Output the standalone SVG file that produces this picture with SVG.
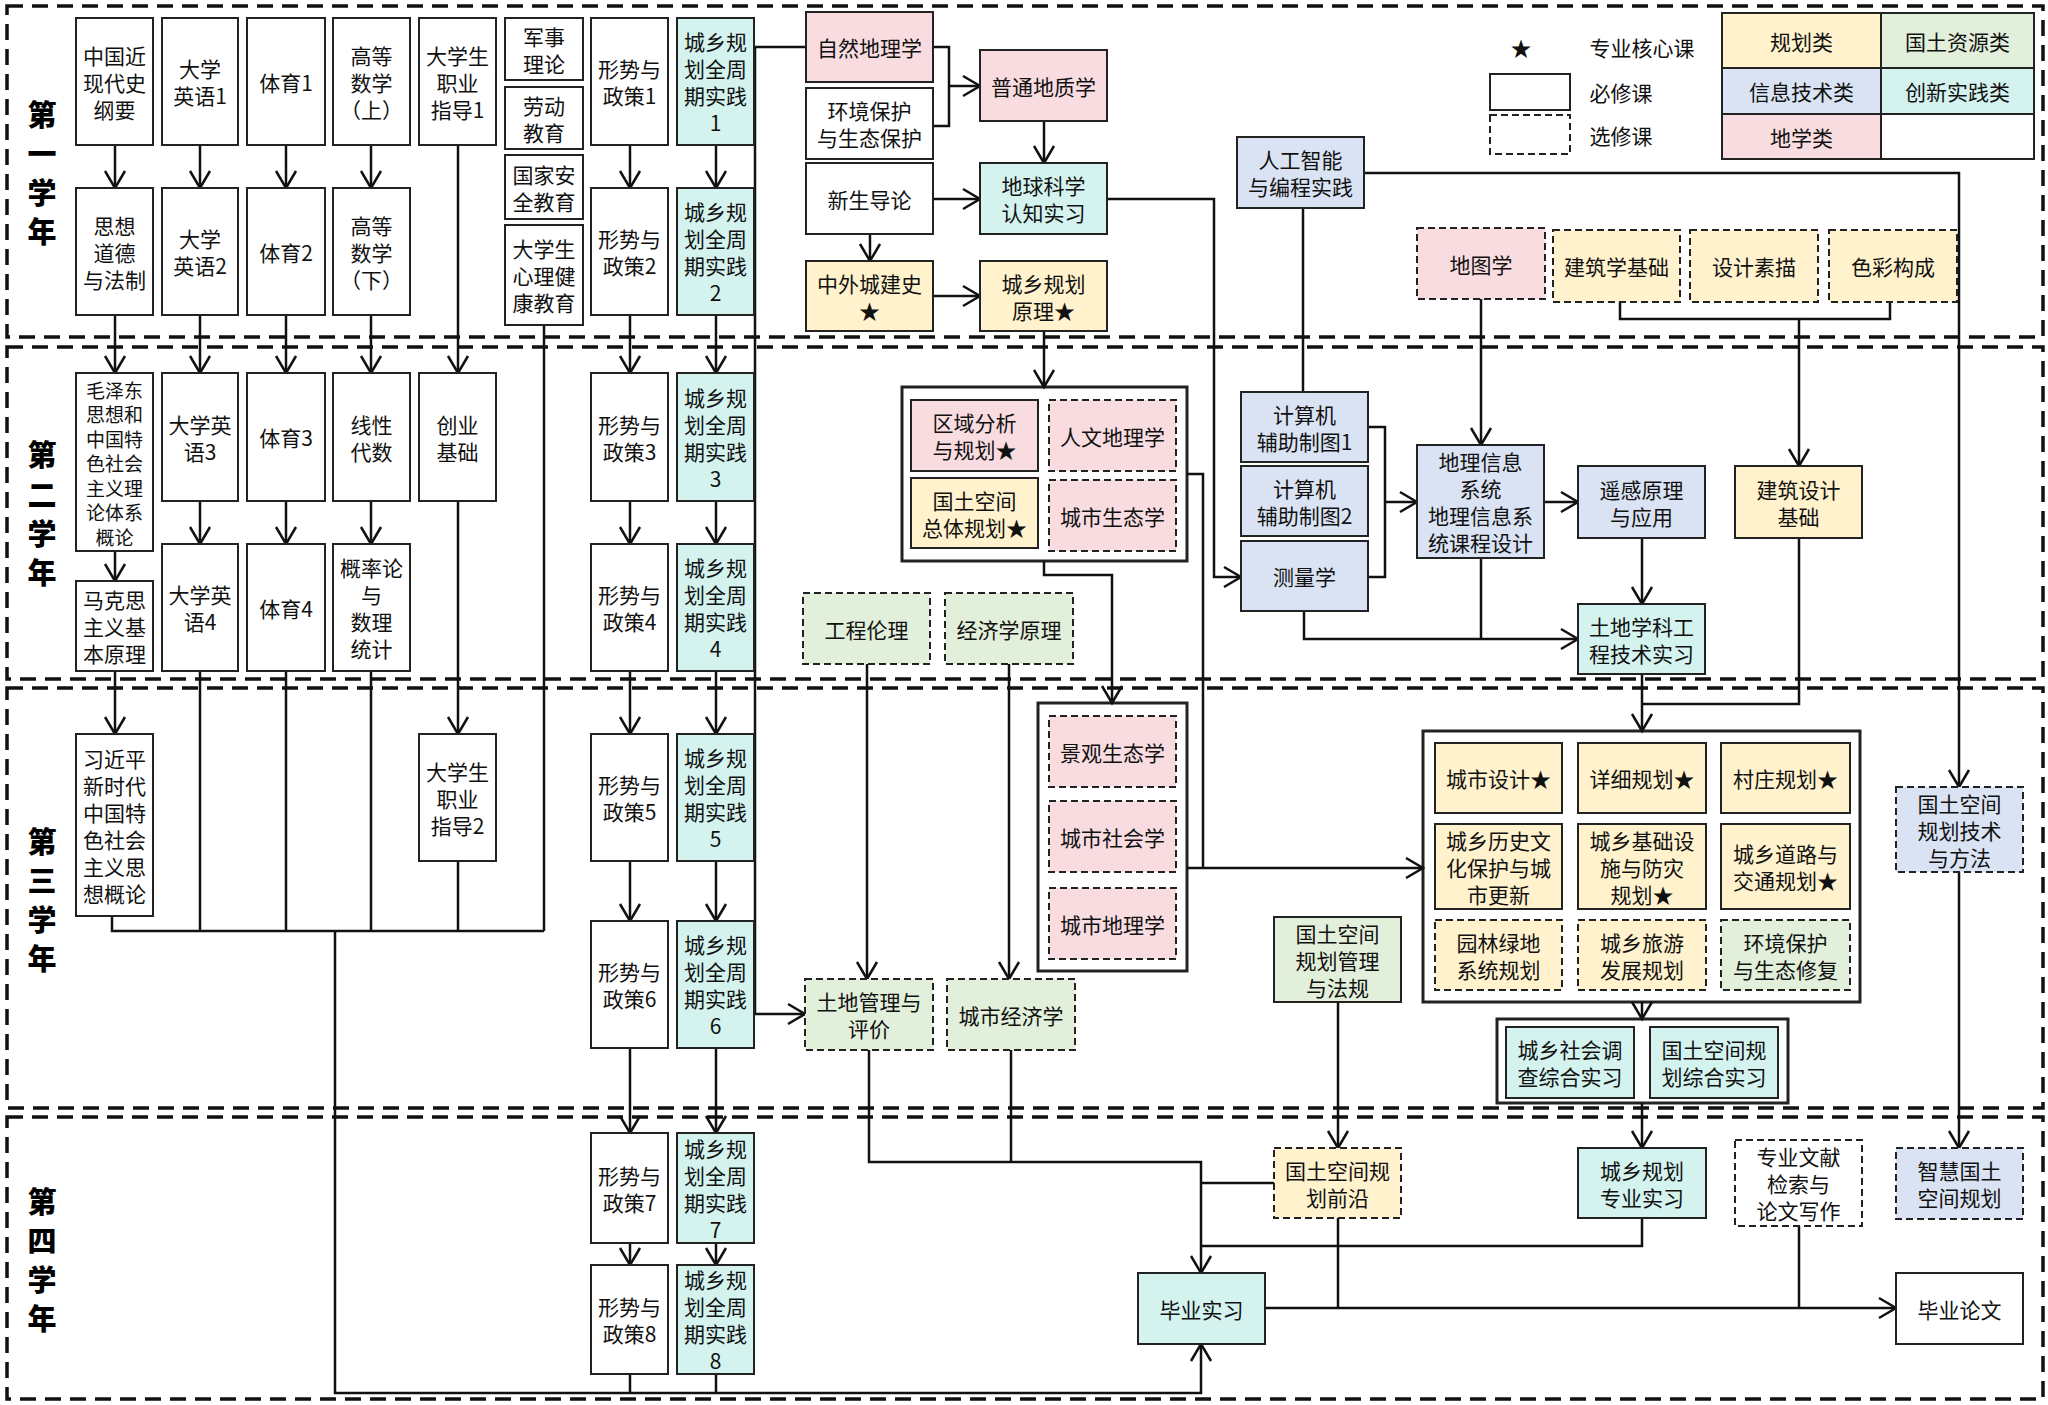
<svg xmlns="http://www.w3.org/2000/svg" width="2048" height="1405" viewBox="0 0 2048 1405">
<defs>
<marker id="arr" markerUnits="userSpaceOnUse" markerWidth="24" markerHeight="26" refX="20" refY="13" orient="auto">
<path d="M3,3 L20,13 L3,23" fill="none" stroke="#111" stroke-width="2.5"/>
</marker>
<style>
.t{font-family:"Noto Sans CJK SC","Noto Sans",sans-serif;font-size:21px;text-anchor:middle;dominant-baseline:central;fill:#111}
.sm{font-size:19px}
.yl{font-family:"Noto Sans CJK SC","Noto Sans",sans-serif;font-size:29px;font-weight:900;text-anchor:middle;dominant-baseline:central;fill:#000}
.n{stroke:#222;stroke-width:2}
.dn{stroke-dasharray:7 4}
.y{fill:#FFF2CC}.g{fill:#E2EFDA}.bl{fill:#DAE3F3}.cy{fill:#D4F3EF}.p{fill:#F8DCE0}.w{fill:#FFFFFF}
.grp{fill:#fff;stroke:#222;stroke-width:3}
.yr{fill:none;stroke:#111;stroke-width:3.5;stroke-dasharray:16 9}
.c{fill:none;stroke:#111;stroke-width:2.5}
.a{marker-end:url(#arr)}
</style>
</defs>
<rect width="2048" height="1405" fill="#fff"/>
<g id="years">
<rect class="yr" x="7" y="6" width="2036" height="331"/>
<rect class="yr" x="7" y="347" width="2036" height="332"/>
<rect class="yr" x="7" y="688" width="2036" height="420"/>
<rect class="yr" x="7" y="1117" width="2036" height="282"/>
<text class="yl"><tspan x="42" y="113">第</tspan><tspan x="42" y="152">一</tspan><tspan x="42" y="191">学</tspan><tspan x="42" y="230">年</tspan></text>
<text class="yl"><tspan x="42" y="453">第</tspan><tspan x="42" y="493">二</tspan><tspan x="42" y="532">学</tspan><tspan x="42" y="571">年</tspan></text>
<text class="yl"><tspan x="42" y="840">第</tspan><tspan x="42" y="879">三</tspan><tspan x="42" y="918">学</tspan><tspan x="42" y="957">年</tspan></text>
<text class="yl"><tspan x="42" y="1200">第</tspan><tspan x="42" y="1239">四</tspan><tspan x="42" y="1278">学</tspan><tspan x="42" y="1317">年</tspan></text>
</g>
<g id="containers">
<rect id="grp-region" class="grp" x="902" y="387" width="285" height="174"/>
<rect id="grp-eco" class="grp" x="1038" y="703" width="149" height="268"/>
<rect id="grp-design" class="grp" x="1423" y="731" width="437" height="271"/>
<rect id="grp-intern" class="grp" x="1497" y="1019" width="291" height="84"/>
</g>
<g id="connectors" class="c">
<path class="a" d="M115 145V188"/><path class="a" d="M200 145V188"/><path class="a" d="M286 145V188"/><path class="a" d="M371 145V188"/>
<path class="a" d="M115 315V373"/><path class="a" d="M200 315V373"/><path class="a" d="M286 315V373"/><path class="a" d="M371 315V373"/>
<path class="a" d="M458 145V373"/>
<path d="M544 325V931"/>
<path class="a" d="M115 551V581"/>
<path class="a" d="M200 501V544"/><path class="a" d="M286 501V544"/><path class="a" d="M371 501V544"/>
<path class="a" d="M458 501V734"/>
<path class="a" d="M115 671V734"/>
<path d="M200 671V931"/><path d="M286 671V931"/><path d="M371 671V931"/>
<path d="M458 861V931"/>
<path d="M112 916V931H544"/>
<path class="a" d="M335 931V1393H1201V1344"/>
<path class="a" d="M630 145V188"/><path class="a" d="M630 315V373"/><path class="a" d="M630 501V544"/><path class="a" d="M630 671V734"/><path class="a" d="M630 861V921"/><path class="a" d="M630 1048V1133"/><path class="a" d="M630 1243V1265"/><path d="M630 1374V1393"/>
<path class="a" d="M716 145V188"/><path class="a" d="M716 315V373"/><path class="a" d="M716 501V544"/><path class="a" d="M716 671V734"/><path class="a" d="M716 861V921"/><path class="a" d="M716 1048V1133"/><path class="a" d="M716 1243V1265"/><path d="M716 1374V1393"/>
<path class="a" d="M806 47H755V1014H805"/>
<path d="M933 47H949V126H933"/>
<path class="a" d="M949 86H980"/>
<path class="a" d="M1044 121V163"/>
<path class="a" d="M933 199H980"/>
<path class="a" d="M870 234V261"/>
<path class="a" d="M933 296H980"/>
<path class="a" d="M1044 331V387"/>
<path class="a" d="M1107 199H1214V577H1241"/>
<path d="M1303 208V392"/>
<path class="a" d="M1364 173H1959V787"/>
<path class="a" d="M1959 872V1148"/>
<path d="M1187 474H1203V868"/>
<path class="a" d="M1187 868H1423"/>
<path class="a" d="M1044 561V575H1112V703"/>
<path class="a" d="M867 664V979"/>
<path class="a" d="M1009 664V979"/>
<path class="a" d="M869 1050V1162H1201V1273"/>
<path d="M1011 1050V1162"/>
<path d="M1368 427H1385V577H1368"/>
<path class="a" d="M1385 502H1417"/>
<path class="a" d="M1304 611V639H1578"/>
<path d="M1481 558V639"/>
<path class="a" d="M1481 299V445"/>
<path class="a" d="M1544 502H1578"/>
<path class="a" d="M1642 538V604"/>
<path d="M1620 302V319H1890V302"/>
<path class="a" d="M1799 319V466"/>
<path class="a" d="M1642 674V731"/>
<path d="M1799 538V704H1642"/>
<path class="a" d="M1642 1002V1019"/>
<path class="a" d="M1642 1103V1148"/>
<path d="M1642 1218V1246H1201"/>
<path class="a" d="M1338 1002V1148"/>
<path d="M1274 1183H1201"/>
<path class="a" d="M1265 1308H1896"/>
<path d="M1338 1218V1308"/>
<path d="M1799 1226V1308"/>
</g>
<g id="nodes">
<g id="zgjxds"><rect class="n w" x="76" y="18" width="77" height="127"/><text class="t"><tspan x="114.5" y="54.5">中国近</tspan><tspan x="114.5" y="81.5">现代史</tspan><tspan x="114.5" y="108.5">纲要</tspan></text></g>
<g id="dxyy1"><rect class="n w" x="162" y="18" width="76" height="127"/><text class="t"><tspan x="200" y="68">大学</tspan><tspan x="200" y="95">英语1</tspan></text></g>
<g id="ty1"><rect class="n w" x="247" y="18" width="78" height="127"/><text class="t" x="286" y="81.5">体育1</text></g>
<g id="gdsx1"><rect class="n w" x="333" y="18" width="77" height="127"/><text class="t"><tspan x="371.5" y="54.5">高等</tspan><tspan x="371.5" y="81.5">数学</tspan><tspan x="371.5" y="108.5">（上）</tspan></text></g>
<g id="zyzd1"><rect class="n w" x="419" y="18" width="77" height="127"/><text class="t"><tspan x="457.5" y="54.5">大学生</tspan><tspan x="457.5" y="81.5">职业</tspan><tspan x="457.5" y="108.5">指导1</tspan></text></g>
<g id="jsll"><rect class="n w" x="505" y="18" width="78" height="62"/><text class="t"><tspan x="544" y="35.5">军事</tspan><tspan x="544" y="62.5">理论</tspan></text></g>
<g id="ldjy"><rect class="n w" x="505" y="87" width="78" height="62"/><text class="t"><tspan x="544" y="104.5">劳动</tspan><tspan x="544" y="131.5">教育</tspan></text></g>
<g id="gjaq"><rect class="n w" x="505" y="155" width="78" height="64"/><text class="t"><tspan x="544" y="173.5">国家安</tspan><tspan x="544" y="200.5">全教育</tspan></text></g>
<g id="xljk"><rect class="n w" x="505" y="225" width="78" height="100"/><text class="t"><tspan x="544" y="248">大学生</tspan><tspan x="544" y="275">心理健</tspan><tspan x="544" y="302">康教育</tspan></text></g>
<g id="xszc1"><rect class="n w" x="591" y="18" width="77" height="127"/><text class="t"><tspan x="629.5" y="68">形势与</tspan><tspan x="629.5" y="95">政策1</tspan></text></g>
<g id="cxgh1"><rect class="n cy" x="677" y="18" width="77" height="127"/><text class="t"><tspan x="715.5" y="41">城乡规</tspan><tspan x="715.5" y="68">划全周</tspan><tspan x="715.5" y="95">期实践</tspan><tspan x="715.5" y="122">1</tspan></text></g>

<g id="sxdd"><rect class="n w" x="76" y="188" width="77" height="127"/><text class="t"><tspan x="114.5" y="224.5">思想</tspan><tspan x="114.5" y="251.5">道德</tspan><tspan x="114.5" y="278.5">与法制</tspan></text></g>
<g id="dxyy2"><rect class="n w" x="162" y="188" width="76" height="127"/><text class="t"><tspan x="200" y="238">大学</tspan><tspan x="200" y="265">英语2</tspan></text></g>
<g id="ty2"><rect class="n w" x="247" y="188" width="78" height="127"/><text class="t" x="286" y="251.5">体育2</text></g>
<g id="gdsx2"><rect class="n w" x="333" y="188" width="77" height="127"/><text class="t"><tspan x="371.5" y="224.5">高等</tspan><tspan x="371.5" y="251.5">数学</tspan><tspan x="371.5" y="278.5">（下）</tspan></text></g>
<g id="xszc2"><rect class="n w" x="591" y="188" width="77" height="127"/><text class="t"><tspan x="629.5" y="238">形势与</tspan><tspan x="629.5" y="265">政策2</tspan></text></g>
<g id="cxgh2"><rect class="n cy" x="677" y="188" width="77" height="127"/><text class="t"><tspan x="715.5" y="211">城乡规</tspan><tspan x="715.5" y="238">划全周</tspan><tspan x="715.5" y="265">期实践</tspan><tspan x="715.5" y="292">2</tspan></text></g>

<g id="mzd"><rect class="n w" x="76" y="373" width="77" height="178"/><text class="t sm"><tspan x="114.5" y="388.5">毛泽东</tspan><tspan x="114.5" y="413">思想和</tspan><tspan x="114.5" y="437.5">中国特</tspan><tspan x="114.5" y="462">色社会</tspan><tspan x="114.5" y="486.5">主义理</tspan><tspan x="114.5" y="511">论体系</tspan><tspan x="114.5" y="535.5">概论</tspan></text></g>
<g id="dxyy3"><rect class="n w" x="162" y="373" width="76" height="128"/><text class="t"><tspan x="200" y="423.5">大学英</tspan><tspan x="200" y="450.5">语3</tspan></text></g>
<g id="ty3"><rect class="n w" x="247" y="373" width="78" height="128"/><text class="t" x="286" y="437">体育3</text></g>
<g id="xxds"><rect class="n w" x="333" y="373" width="77" height="128"/><text class="t"><tspan x="371.5" y="423.5">线性</tspan><tspan x="371.5" y="450.5">代数</tspan></text></g>
<g id="cyjc"><rect class="n w" x="419" y="373" width="77" height="128"/><text class="t"><tspan x="457.5" y="423.5">创业</tspan><tspan x="457.5" y="450.5">基础</tspan></text></g>
<g id="xszc3"><rect class="n w" x="591" y="373" width="77" height="128"/><text class="t"><tspan x="629.5" y="423.5">形势与</tspan><tspan x="629.5" y="450.5">政策3</tspan></text></g>
<g id="cxgh3"><rect class="n cy" x="677" y="373" width="77" height="128"/><text class="t"><tspan x="715.5" y="396.5">城乡规</tspan><tspan x="715.5" y="423.5">划全周</tspan><tspan x="715.5" y="450.5">期实践</tspan><tspan x="715.5" y="477.5">3</tspan></text></g>

<g id="mks"><rect class="n w" x="76" y="581" width="77" height="90"/><text class="t"><tspan x="114.5" y="599">马克思</tspan><tspan x="114.5" y="626">主义基</tspan><tspan x="114.5" y="653">本原理</tspan></text></g>
<g id="dxyy4"><rect class="n w" x="162" y="544" width="76" height="127"/><text class="t"><tspan x="200" y="594">大学英</tspan><tspan x="200" y="621">语4</tspan></text></g>
<g id="ty4"><rect class="n w" x="247" y="544" width="78" height="127"/><text class="t" x="286" y="607.5">体育4</text></g>
<g id="gll"><rect class="n w" x="333" y="544" width="77" height="127"/><text class="t"><tspan x="371.5" y="567">概率论</tspan><tspan x="371.5" y="594">与</tspan><tspan x="371.5" y="621">数理</tspan><tspan x="371.5" y="648">统计</tspan></text></g>
<g id="xszc4"><rect class="n w" x="591" y="544" width="77" height="127"/><text class="t"><tspan x="629.5" y="594">形势与</tspan><tspan x="629.5" y="621">政策4</tspan></text></g>
<g id="cxgh4"><rect class="n cy" x="677" y="544" width="77" height="127"/><text class="t"><tspan x="715.5" y="567">城乡规</tspan><tspan x="715.5" y="594">划全周</tspan><tspan x="715.5" y="621">期实践</tspan><tspan x="715.5" y="648">4</tspan></text></g>

<g id="xjp"><rect class="n w" x="76" y="734" width="77" height="182"/><text class="t"><tspan x="114.5" y="757.5">习近平</tspan><tspan x="114.5" y="784.5">新时代</tspan><tspan x="114.5" y="811.5">中国特</tspan><tspan x="114.5" y="838.5">色社会</tspan><tspan x="114.5" y="865.5">主义思</tspan><tspan x="114.5" y="892.5">想概论</tspan></text></g>
<g id="zyzd2"><rect class="n w" x="419" y="734" width="77" height="127"/><text class="t"><tspan x="457.5" y="770.5">大学生</tspan><tspan x="457.5" y="797.5">职业</tspan><tspan x="457.5" y="824.5">指导2</tspan></text></g>
<g id="xszc5"><rect class="n w" x="591" y="734" width="77" height="127"/><text class="t"><tspan x="629.5" y="784">形势与</tspan><tspan x="629.5" y="811">政策5</tspan></text></g>
<g id="cxgh5"><rect class="n cy" x="677" y="734" width="77" height="127"/><text class="t"><tspan x="715.5" y="757">城乡规</tspan><tspan x="715.5" y="784">划全周</tspan><tspan x="715.5" y="811">期实践</tspan><tspan x="715.5" y="838">5</tspan></text></g>
<g id="xszc6"><rect class="n w" x="591" y="921" width="77" height="127"/><text class="t"><tspan x="629.5" y="971">形势与</tspan><tspan x="629.5" y="998">政策6</tspan></text></g>
<g id="cxgh6"><rect class="n cy" x="677" y="921" width="77" height="127"/><text class="t"><tspan x="715.5" y="944">城乡规</tspan><tspan x="715.5" y="971">划全周</tspan><tspan x="715.5" y="998">期实践</tspan><tspan x="715.5" y="1025">6</tspan></text></g>
<g id="xszc7"><rect class="n w" x="591" y="1133" width="77" height="110"/><text class="t"><tspan x="629.5" y="1174.5">形势与</tspan><tspan x="629.5" y="1201.5">政策7</tspan></text></g>
<g id="cxgh7"><rect class="n cy" x="677" y="1133" width="77" height="110"/><text class="t"><tspan x="715.5" y="1147.5">城乡规</tspan><tspan x="715.5" y="1174.5">划全周</tspan><tspan x="715.5" y="1201.5">期实践</tspan><tspan x="715.5" y="1228.5">7</tspan></text></g>
<g id="xszc8"><rect class="n w" x="591" y="1265" width="77" height="109"/><text class="t"><tspan x="629.5" y="1306">形势与</tspan><tspan x="629.5" y="1333">政策8</tspan></text></g>
<g id="cxgh8"><rect class="n cy" x="677" y="1265" width="77" height="109"/><text class="t"><tspan x="715.5" y="1279">城乡规</tspan><tspan x="715.5" y="1306">划全周</tspan><tspan x="715.5" y="1333">期实践</tspan><tspan x="715.5" y="1360">8</tspan></text></g>

<g id="zrdlx"><rect class="n p" x="806" y="12" width="127" height="70"/><text class="t" x="869.5" y="47">自然地理学</text></g>
<g id="hjbh"><rect class="n w" x="806" y="88" width="127" height="71"/><text class="t"><tspan x="869.5" y="110">环境保护</tspan><tspan x="869.5" y="137">与生态保护</tspan></text></g>
<g id="xsdl"><rect class="n w" x="806" y="163" width="127" height="71"/><text class="t" x="869.5" y="198.5">新生导论</text></g>
<g id="zwcjs"><rect class="n y" x="806" y="261" width="127" height="70"/><text class="t"><tspan x="869.5" y="282.5">中外城建史</tspan><tspan x="869.5" y="309.5">★</tspan></text></g>
<g id="ptdzx"><rect class="n p" x="980" y="50" width="127" height="71"/><text class="t" x="1043.5" y="85.5">普通地质学</text></g>
<g id="dqkx"><rect class="n cy" x="980" y="163" width="127" height="71"/><text class="t"><tspan x="1043.5" y="185">地球科学</tspan><tspan x="1043.5" y="212">认知实习</tspan></text></g>
<g id="cxghyl"><rect class="n y" x="980" y="261" width="127" height="70"/><text class="t"><tspan x="1043.5" y="282.5">城乡规划</tspan><tspan x="1043.5" y="309.5">原理★</tspan></text></g>
<g id="rgzn"><rect class="n bl" x="1237" y="137" width="127" height="71"/><text class="t"><tspan x="1300.5" y="159">人工智能</tspan><tspan x="1300.5" y="186">与编程实践</tspan></text></g>
<g id="qyfx"><rect class="n p" x="911" y="400" width="127" height="71"/><text class="t"><tspan x="974.5" y="422">区域分析</tspan><tspan x="974.5" y="449">与规划★</tspan></text></g>
<g id="rwdlx"><rect class="n p dn" x="1049" y="400" width="127" height="71"/><text class="t" x="1112.5" y="435.5">人文地理学</text></g>
<g id="gtztgh"><rect class="n y" x="911" y="478" width="127" height="70"/><text class="t"><tspan x="974.5" y="499.5">国土空间</tspan><tspan x="974.5" y="526.5">总体规划★</tspan></text></g>
<g id="csstx"><rect class="n p dn" x="1049" y="480" width="127" height="71"/><text class="t" x="1112.5" y="515.5">城市生态学</text></g>
<g id="gcll"><rect class="n g dn" x="803" y="593" width="127" height="71"/><text class="t" x="866.5" y="628.5">工程伦理</text></g>
<g id="jjxyl"><rect class="n g dn" x="945" y="593" width="128" height="71"/><text class="t" x="1009" y="628.5">经济学原理</text></g>
<g id="jgstx"><rect class="n p dn" x="1049" y="716" width="127" height="71"/><text class="t" x="1112.5" y="751.5">景观生态学</text></g>
<g id="csshx"><rect class="n p dn" x="1049" y="801" width="127" height="71"/><text class="t" x="1112.5" y="836.5">城市社会学</text></g>
<g id="csdlx"><rect class="n p dn" x="1049" y="888" width="127" height="71"/><text class="t" x="1112.5" y="923.5">城市地理学</text></g>
<g id="tdgl"><rect class="n g dn" x="805" y="979" width="128" height="71"/><text class="t"><tspan x="869" y="1001">土地管理与</tspan><tspan x="869" y="1028">评价</tspan></text></g>
<g id="csjjx"><rect class="n g dn" x="947" y="979" width="128" height="71"/><text class="t" x="1011" y="1014.5">城市经济学</text></g>
<g id="jsj1"><rect class="n bl" x="1241" y="392" width="127" height="70"/><text class="t"><tspan x="1304.5" y="413.5">计算机</tspan><tspan x="1304.5" y="440.5">辅助制图1</tspan></text></g>
<g id="jsj2"><rect class="n bl" x="1241" y="466" width="127" height="70"/><text class="t"><tspan x="1304.5" y="487.5">计算机</tspan><tspan x="1304.5" y="514.5">辅助制图2</tspan></text></g>
<g id="clx"><rect class="n bl" x="1241" y="541" width="127" height="70"/><text class="t" x="1304.5" y="576">测量学</text></g>
<g id="dtx"><rect class="n p dn" x="1417" y="228" width="128" height="71"/><text class="t" x="1481" y="263.5">地图学</text></g>
<g id="jzxjc"><rect class="n y dn" x="1553" y="230" width="127" height="72"/><text class="t" x="1616.5" y="266">建筑学基础</text></g>
<g id="sjsm"><rect class="n y dn" x="1690" y="230" width="128" height="72"/><text class="t" x="1754" y="266">设计素描</text></g>
<g id="scgc"><rect class="n y dn" x="1829" y="230" width="128" height="72"/><text class="t" x="1893" y="266">色彩构成</text></g>
<g id="dlxx"><rect class="n bl" x="1417" y="445" width="127" height="113"/><text class="t"><tspan x="1480.5" y="461">地理信息</tspan><tspan x="1480.5" y="488">系统</tspan><tspan x="1480.5" y="515">地理信息系</tspan><tspan x="1480.5" y="542">统课程设计</tspan></text></g>
<g id="ygyl"><rect class="n bl" x="1578" y="466" width="127" height="72"/><text class="t"><tspan x="1641.5" y="488.5">遥感原理</tspan><tspan x="1641.5" y="515.5">与应用</tspan></text></g>
<g id="jzsjjc"><rect class="n y" x="1735" y="466" width="127" height="72"/><text class="t"><tspan x="1798.5" y="488.5">建筑设计</tspan><tspan x="1798.5" y="515.5">基础</tspan></text></g>
<g id="tdxk"><rect class="n cy" x="1578" y="604" width="127" height="70"/><text class="t"><tspan x="1641.5" y="625.5">土地学科工</tspan><tspan x="1641.5" y="652.5">程技术实习</tspan></text></g>
<g id="cssj"><rect class="n y" x="1435" y="743" width="127" height="70"/><text class="t" x="1498.5" y="778">城市设计★</text></g>
<g id="xxgh"><rect class="n y" x="1578" y="743" width="128" height="70"/><text class="t" x="1642" y="778">详细规划★</text></g>
<g id="czgh"><rect class="n y" x="1721" y="743" width="129" height="70"/><text class="t" x="1785.5" y="778">村庄规划★</text></g>
<g id="lswh"><rect class="n y" x="1435" y="824" width="127" height="85"/><text class="t"><tspan x="1498.5" y="839.5">城乡历史文</tspan><tspan x="1498.5" y="866.5">化保护与城</tspan><tspan x="1498.5" y="893.5">市更新</tspan></text></g>
<g id="jcss"><rect class="n y" x="1578" y="824" width="128" height="85"/><text class="t"><tspan x="1642" y="839.5">城乡基础设</tspan><tspan x="1642" y="866.5">施与防灾</tspan><tspan x="1642" y="893.5">规划★</tspan></text></g>
<g id="dljt"><rect class="n y" x="1721" y="824" width="129" height="85"/><text class="t"><tspan x="1785.5" y="853">城乡道路与</tspan><tspan x="1785.5" y="880">交通规划★</tspan></text></g>
<g id="ylld"><rect class="n y dn" x="1435" y="920" width="127" height="70"/><text class="t"><tspan x="1498.5" y="941.5">园林绿地</tspan><tspan x="1498.5" y="968.5">系统规划</tspan></text></g>
<g id="cxly"><rect class="n y dn" x="1578" y="920" width="128" height="70"/><text class="t"><tspan x="1642" y="941.5">城乡旅游</tspan><tspan x="1642" y="968.5">发展规划</tspan></text></g>
<g id="hjxf"><rect class="n g dn" x="1721" y="920" width="129" height="70"/><text class="t"><tspan x="1785.5" y="941.5">环境保护</tspan><tspan x="1785.5" y="968.5">与生态修复</tspan></text></g>
<g id="gtjs"><rect class="n bl dn" x="1896" y="787" width="127" height="85"/><text class="t"><tspan x="1959.5" y="802.5">国土空间</tspan><tspan x="1959.5" y="829.5">规划技术</tspan><tspan x="1959.5" y="856.5">与方法</tspan></text></g>
<g id="gtgl"><rect class="n g" x="1274" y="917" width="127" height="85"/><text class="t"><tspan x="1337.5" y="932.5">国土空间</tspan><tspan x="1337.5" y="959.5">规划管理</tspan><tspan x="1337.5" y="986.5">与法规</tspan></text></g>
<g id="shdc"><rect class="n cy" x="1506" y="1027" width="128" height="71"/><text class="t"><tspan x="1570" y="1049">城乡社会调</tspan><tspan x="1570" y="1076">查综合实习</tspan></text></g>
<g id="gtzh"><rect class="n cy" x="1650" y="1027" width="128" height="71"/><text class="t"><tspan x="1714" y="1049">国土空间规</tspan><tspan x="1714" y="1076">划综合实习</tspan></text></g>
<g id="gtqy"><rect class="n y dn" x="1274" y="1148" width="127" height="70"/><text class="t"><tspan x="1337.5" y="1169.5">国土空间规</tspan><tspan x="1337.5" y="1196.5">划前沿</tspan></text></g>
<g id="zysx"><rect class="n cy" x="1578" y="1148" width="128" height="70"/><text class="t"><tspan x="1642" y="1169.5">城乡规划</tspan><tspan x="1642" y="1196.5">专业实习</tspan></text></g>
<g id="wxjs"><rect class="n w dn" x="1735" y="1140" width="127" height="86"/><text class="t"><tspan x="1798.5" y="1156">专业文献</tspan><tspan x="1798.5" y="1183">检索与</tspan><tspan x="1798.5" y="1210">论文写作</tspan></text></g>
<g id="zhgt"><rect class="n bl dn" x="1896" y="1148" width="127" height="71"/><text class="t"><tspan x="1959.5" y="1170">智慧国土</tspan><tspan x="1959.5" y="1197">空间规划</tspan></text></g>
<g id="bysx"><rect class="n cy" x="1138" y="1273" width="127" height="71"/><text class="t" x="1201.5" y="1308.5">毕业实习</text></g>
<g id="bylw"><rect class="n w" x="1896" y="1273" width="127" height="71"/><text class="t" x="1959.5" y="1308.5">毕业论文</text></g>
</g>
<g id="legend">
<text class="t" x="1521" y="47">★</text>
<text class="t" x="1642" y="47">专业核心课</text>
<rect class="n w" x="1490" y="74" width="80" height="36"/>
<text class="t" x="1621" y="92">必修课</text>
<rect class="n w dn" x="1490" y="115" width="80" height="39"/>
<text class="t" x="1621" y="135">选修课</text>
<rect class="n y" x="1722" y="13" width="159" height="55"/>
<rect class="n g" x="1881" y="13" width="153" height="55"/>
<rect class="n bl" x="1722" y="68" width="159" height="46"/>
<rect class="n cy" x="1881" y="68" width="153" height="46"/>
<rect class="n p" x="1722" y="114" width="159" height="45"/>
<rect class="n w" x="1881" y="114" width="153" height="45"/>
<text class="t" x="1801.5" y="40.5">规划类</text>
<text class="t" x="1957.5" y="40.5">国土资源类</text>
<text class="t" x="1801.5" y="91">信息技术类</text>
<text class="t" x="1957.5" y="91">创新实践类</text>
<text class="t" x="1801.5" y="136.5">地学类</text>
</g>
</svg>
